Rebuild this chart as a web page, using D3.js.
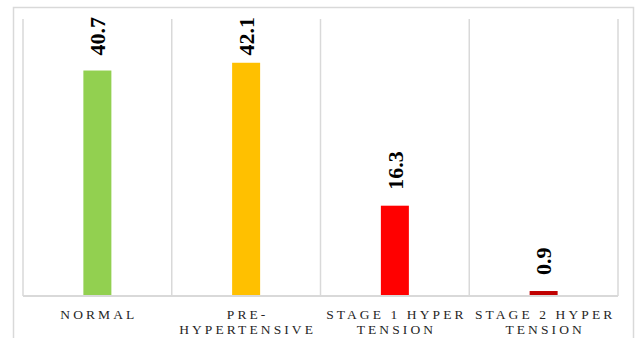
<!DOCTYPE html>
<html>
<head>
<meta charset="utf-8">
<script src="https://cdn.jsdelivr.net/npm/d3@7"></script>
<style>
  html, body { margin: 0; padding: 0; background: #fff; }
  svg { display: block; }
</style>
</head>
<body>
<svg id="chart" width="635" height="338"></svg>
<script>
// Blood pressure classification, percentage of participants
const categories = [["NORMAL"], ["PRE-", "HYPERTENSIVE"], ["STAGE 1 HYPER", "TENSION"], ["STAGE 2 HYPER", "TENSION"]];
const values = [40.7, 42.1, 16.3, 0.9];
const barColors = ["#92d050", "#ffc000", "#ff0000", "#c00000"];
const yDomain = [0, 50];

const W = 635, H = 338;
const margin = { top: 19, right: 17, bottom: 42, left: 23 };
const svg = d3.select("#chart");

// Outer chart frame
svg.append("rect")
  .attr("x", 13.5).attr("y", 7.5)
  .attr("width", 620).attr("height", 340)
  .attr("fill", "#fff")
  .attr("stroke", "#d9d9d9").attr("stroke-width", 1.5);

const x = d3.scaleBand()
  .domain(d3.range(values.length))
  .range([margin.left, W - margin.right])
  .paddingInner(0).paddingOuter(0);

const y = d3.scaleLinear().domain(yDomain).range([H - margin.bottom, margin.top]);

// Vertical category separators
const edges = x.domain().map(i => x(i)).concat([x.range()[1]]);
svg.append("g").selectAll("line")
  .data(edges)
  .join("line")
  .attr("x1", d => d).attr("x2", d => d)
  .attr("y1", y(yDomain[1])).attr("y2", y(0))
  .attr("stroke", "#d9d9d9").attr("stroke-width", 1.5);

// Bars
const barW = 28;
svg.append("g").selectAll("rect")
  .data(values)
  .join("rect")
  .attr("x", (d, i) => x(i) + x.bandwidth() / 2 - barW / 2)
  .attr("y", d => y(d))
  .attr("width", barW)
  .attr("height", d => y(0) - y(d))
  .attr("fill", (d, i) => barColors[i]);

// Baseline
svg.append("line")
  .attr("x1", x.range()[0]).attr("x2", x.range()[1])
  .attr("y1", y(0)).attr("y2", y(0))
  .attr("stroke", "#d9d9d9").attr("stroke-width", 2);

// Value labels, rotated, above each bar
const gap = 16;
const labels = svg.append("g").selectAll("text")
  .data(values)
  .join("text")
  .attr("font-family", "'Liberation Serif', 'Times New Roman', serif")
  .attr("font-weight", "bold")
  .attr("font-size", 22)
  .attr("fill", "#000")
  .attr("text-anchor", "start")
  .attr("dy", "0.35em")
  .text(d => d.toFixed(1));

labels.each(function(d, i) {
  const len = this.getComputedTextLength();
  const cx = x(i) + x.bandwidth() / 2;
  const yStart = Math.max(y(d) - gap, margin.top - 2 + len);
  d3.select(this).attr("transform", `translate(${cx},${yStart}) rotate(-90)`);
});

// Category labels
const catG = svg.append("g")
  .attr("font-family", "'Liberation Serif', 'Times New Roman', serif")
  .attr("font-size", 13.5)
  .attr("fill", "#262626")
  .attr("text-anchor", "middle");

categories.forEach((lines, i) => {
  const cx = x(i) + x.bandwidth() / 2;
  const t = catG.append("text")
    .attr("x", cx)
    .attr("y", 319)
    .attr("letter-spacing", "3.1px");
  lines.forEach((ln, k) => {
    t.append("tspan")
      .attr("x", cx + 1.5)
      .attr("y", 319 + k * 15)
      .text(ln);
  });
});
</script>
</body>
</html>
